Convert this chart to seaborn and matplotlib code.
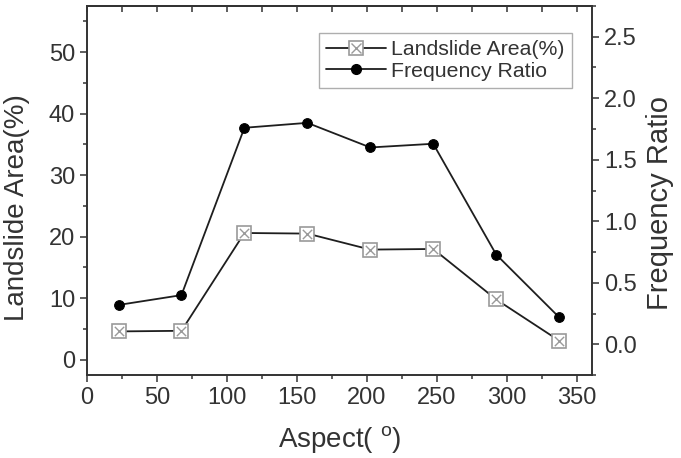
import matplotlib
matplotlib.use("Agg")
import matplotlib.pyplot as plt
from matplotlib.lines import Line2D
from matplotlib.ticker import MultipleLocator
import seaborn as sns
import pandas as pd

# dados
aspecto = [22.5, 67.5, 112.5, 157.5, 202.5, 247.5, 292.5, 337.5]
area_deslizamento = [4.6, 4.7, 20.6, 20.5, 17.9, 18.0, 9.8, 3.1]
razao_frequencia = [0.32, 0.40, 1.76, 1.80, 1.60, 1.63, 0.73, 0.22]

sns.set_style("ticks")
plt.rcParams['font.family'] = ['Liberation Sans', 'DejaVu Sans']
plt.rcParams['mathtext.fontset'] = 'custom'
plt.rcParams['mathtext.rm'] = 'Liberation Sans'

cor_texto = '#333333'
cor_linha = '#1e1e1e'
cor_cinza = '#9a9a9a'

df = pd.DataFrame({'aspecto': aspecto, 'area': area_deslizamento, 'fr': razao_frequencia})

fig = plt.figure(figsize=(6.81, 4.58), dpi=100)
ax = fig.add_axes([0.1278, 0.181, 0.7415, 0.806])
ax2 = ax.twinx()

sns.lineplot(data=df, x='aspecto', y='area', ax=ax, color=cor_linha, lw=1.3,
             marker='s', markersize=9.5, markerfacecolor='white',
             markeredgecolor=cor_cinza, markeredgewidth=1.2, zorder=3)
sns.scatterplot(data=df, x='aspecto', y='area', ax=ax, color=cor_cinza,
                marker='x', s=45, linewidth=1.0, zorder=4)
sns.lineplot(data=df, x='aspecto', y='fr', ax=ax2, color=cor_linha, lw=1.3,
             marker='o', markersize=7, markerfacecolor='black',
             markeredgecolor='black', zorder=3)

ax.set_xlim(0, 361)
ax.set_ylim(-2.5, 57.5)
ax2.set_ylim(-0.25, 2.75)

ax.xaxis.set_major_locator(MultipleLocator(50))
ax.xaxis.set_minor_locator(MultipleLocator(25))
ax.yaxis.set_major_locator(MultipleLocator(10))
ax.yaxis.set_minor_locator(MultipleLocator(5))
ax2.yaxis.set_major_locator(MultipleLocator(0.5))
ax2.yaxis.set_minor_locator(MultipleLocator(0.25))

for a in (ax, ax2):
    a.tick_params(which='major', direction='out', length=5, width=1.1,
                  colors=cor_texto, labelsize=17)
    a.tick_params(which='minor', direction='out', length=3, width=1.1, colors=cor_texto)
    for s in a.spines.values():
        s.set_visible(True)
        s.set_linewidth(1.2)
        s.set_color(cor_texto)
ax.tick_params(axis='y', which='both', right=False)
ax.tick_params(axis='x', which='both', top=False)

topo = ax.secondary_xaxis('top')
topo.xaxis.set_major_locator(MultipleLocator(25))
topo.tick_params(direction='in', length=4.5, width=1.1, colors=cor_texto, labeltop=False)
topo.spines['top'].set_linewidth(1.2)
topo.spines['top'].set_color(cor_texto)

ax.set_xlabel(r'Aspect( $^{\mathrm{o}}$)', fontsize=20, color=cor_texto, labelpad=11)
ax.set_ylabel('Landslide Area(%)', fontsize=20, color=cor_texto)
ax2.set_ylabel('Frequency Ratio', fontsize=21, color=cor_texto)
ax.yaxis.set_label_coords(-0.112, 0.453)
ax2.yaxis.set_label_coords(1.107, 0.465)

h1 = (Line2D([], [], color=cor_linha, lw=1.3, marker='s', markersize=9.5,
             markerfacecolor='white', markeredgecolor=cor_cinza, markeredgewidth=1.2),
      Line2D([], [], color=cor_cinza, linestyle='', marker='x', markersize=7,
             markeredgewidth=1.0))
h2 = Line2D([], [], color=cor_linha, lw=1.3, marker='o', markersize=7,
            markerfacecolor='black', markeredgecolor='black')
leg = ax2.legend([h1, h2], ['Landslide Area(%)', 'Frequency Ratio'],
                 loc='upper right', bbox_to_anchor=(0.96, 0.927), borderaxespad=0,
                 fontsize=15.3, frameon=True, fancybox=False, handlelength=2.8,
                 handletextpad=0.25, labelspacing=0.12, borderpad=0.35)
leg.get_frame().set_edgecolor(cor_cinza)
leg.get_frame().set_linewidth(1.0)
for t in leg.get_texts():
    t.set_color(cor_texto)

fig.savefig('out.png', dpi=100)
